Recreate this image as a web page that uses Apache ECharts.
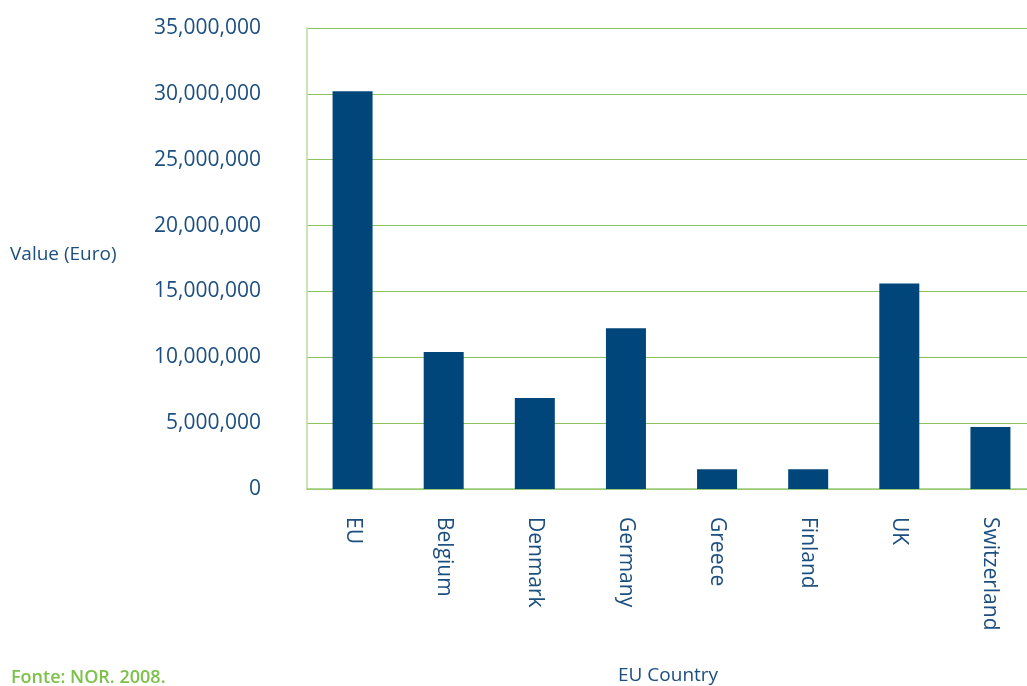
<!DOCTYPE html>
<html>
<head>
<meta charset="utf-8">
<script src="https://cdn.jsdelivr.net/npm/echarts@6/dist/echarts.min.js"></script>
<style>
  html, body { margin: 0; padding: 0; background: #ffffff; }
  #chart { width: 1027px; height: 686px; }
</style>
</head>
<body>
<div id="chart"></div>
<script>
// Funding by country, in euro
const countries = ['EU', 'Belgium', 'Denmark', 'Germany', 'Greece', 'Finland', 'UK', 'Switzerland'];
const values = [30200000, 10400000, 6900000, 12200000, 1500000, 1500000, 15600000, 4700000];
const yTicks = { min: 0, max: 35000000, interval: 5000000 };

const textBlue = '#1c4e80';
const font = '"Open Sans", sans-serif';

const chart = echarts.init(document.getElementById('chart'), null, { renderer: 'canvas' });

chart.setOption({
  animation: false,
  backgroundColor: '#ffffff',
  grid: { left: 307, top: 28, width: 729, height: 461, containLabel: false, outerBoundsMode: 'none' },
  xAxis: {
    type: 'category',
    data: countries,
    axisLine: { show: true, lineStyle: { color: '#9ccc7a', width: 1.5 } },
    axisTick: { show: false },
    axisLabel: {
      rotate: -90,
      margin: 28,
      color: textBlue,
      fontFamily: font,
      fontSize: 21,
      interval: 0
    },
    splitLine: { show: false }
  },
  yAxis: {
    type: 'value',
    min: yTicks.min,
    max: yTicks.max,
    interval: yTicks.interval,
    axisLine: { show: true, lineStyle: { color: '#b7da9d', width: 1.5 } },
    axisTick: { show: false },
    axisLabel: {
      margin: 46,
      color: textBlue,
      fontFamily: font,
      fontSize: 21,
      padding: [3, 0, 0, 0],
      formatter: v => v.toLocaleString('en-US')
    },
    splitLine: { show: true, lineStyle: { color: '#8cc35e', width: 1.2 } }
  },
  series: [{
    type: 'bar',
    data: values,
    barWidth: 40,
    itemStyle: { color: '#01467a' }
  }],
  graphic: [
    {
      type: 'text',
      left: 10,
      top: 245,
      style: { text: 'Value (Euro)', fill: textBlue, font: '19px "Open Sans", sans-serif' }
    },
    {
      type: 'text',
      left: 618,
      top: 666,
      style: { text: 'EU Country', fill: textBlue, font: '19px "Open Sans", sans-serif' }
    },
    {
      type: 'text',
      left: 11,
      top: 669,
      style: { text: 'Fonte: NOR. 2008.', fill: '#7dc14a', font: '600 18px "Open Sans", sans-serif' }
    }
  ]
});
</script>
</body>
</html>
